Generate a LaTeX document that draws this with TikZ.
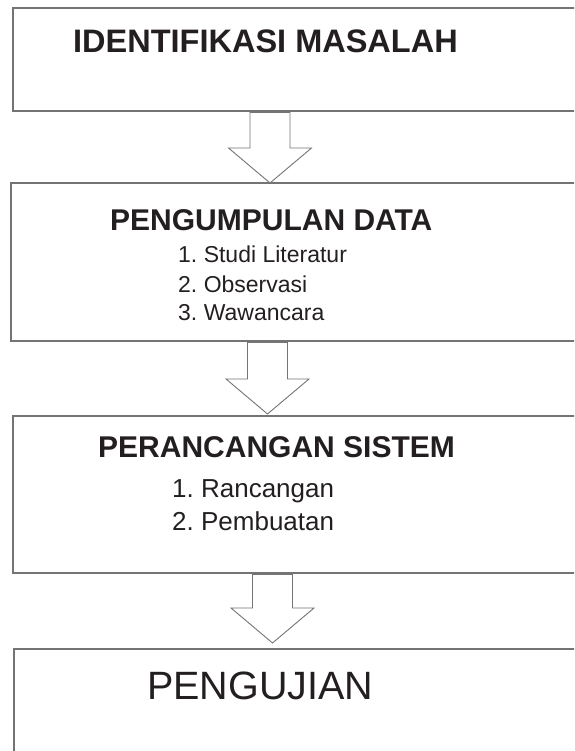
\documentclass[tikz,border=0pt]{standalone}
\usepackage{fontspec}
\setmainfont{Liberation Sans}
\usetikzlibrary{calc}
\definecolor{linegray}{HTML}{747474}
\definecolor{inkdark}{HTML}{231F20}
\frenchspacing
\begin{document}
\begin{tikzpicture}[x=1pt,y=1pt,
  boxshape/.style={draw=linegray,line width=1.1pt,rectangle,anchor=north west,inner sep=0pt,outer sep=0pt},
  arrowline/.style={draw=linegray,line width=0.9pt,fill=white,line join=miter},
  txt/.style={anchor=base west,inner sep=0pt,text=inkdark}]
\useasboundingbox (0,0) rectangle (574,751);
\clip (0,0) rectangle (574,751);
% boxes
\node[boxshape,minimum width=620pt,minimum height=103pt] (b1) at (13,743) {};
\node[boxshape,minimum width=620pt,minimum height=158pt] (b2) at (11,568) {};
\node[boxshape,minimum width=620pt,minimum height=157pt] (b3) at (13,335) {};
\node[boxshape,minimum width=620pt,minimum height=160pt] (b4) at (14,102) {};
% texts
\node[txt,font=\bfseries\fontsize{32.5}{38}\selectfont] (t1) at (73,698) {IDENTIFIKASI MASALAH};
\node[txt,font=\bfseries\fontsize{30}{36}\selectfont] (t2) at (110,520) {PENGUMPULAN DATA};
\node[txt,font=\fontsize{23}{28}\selectfont] (t2a) at (178,488) {1. Studi Literatur};
\node[txt,font=\fontsize{23}{28}\selectfont] (t2b) at (178,458) {2. Observasi};
\node[txt,font=\fontsize{23}{28}\selectfont] (t2c) at (178,430) {3. Wawancara};
\node[txt,font=\bfseries\fontsize{30}{36}\selectfont] (t3) at (98,293) {PERANCANGAN SISTEM};
\node[txt,font=\fontsize{26}{31}\selectfont] (t3a) at (172,253) {1. Rancangan};
\node[txt,font=\fontsize{26}{31}\selectfont] (t3b) at (172,220) {2. Pembuatan};
\node[txt,font=\fontsize{39.5}{47}\selectfont] (t4) at (147,51) {PENGUJIAN};
% hollow block arrows: #1 centre x, #2 from node, #3 to node, #4 gap at tip
\newcommand\hollowarrow[4]{%
  \draw[arrowline] let \p1=(#2.south), \p2=(#3.north) in
    (#1-20,\y1-1.5) -- (#1+20,\y1-1.5) -- (#1+20,\y2+#4+35) -- (#1+41.5,\y2+#4+35)
    -- (#1,\y2+#4) -- (#1-41.5,\y2+#4+35) -- (#1-20,\y2+#4+35) -- cycle;}
\hollowarrow{270}{b1}{b2}{0}
\hollowarrow{267.5}{b2}{b3}{2}
\hollowarrow{272.5}{b3}{b4}{6}
\end{tikzpicture}
\end{document}
